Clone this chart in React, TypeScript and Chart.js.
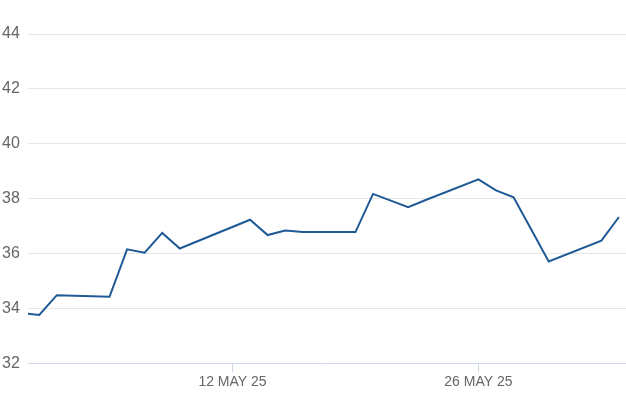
import React, { useEffect, useRef } from "react";
import { Chart, registerables } from "chart.js";

Chart.register(...registerables);

const dates = [
  "2025-04-30", "2025-05-01", "2025-05-02", "2025-05-05", "2025-05-06",
  "2025-05-07", "2025-05-08", "2025-05-09", "2025-05-13", "2025-05-14",
  "2025-05-15", "2025-05-16", "2025-05-19", "2025-05-20", "2025-05-22",
  "2025-05-23", "2025-05-26", "2025-05-27", "2025-05-28", "2025-05-29",
  "2025-05-30", "2025-06-02", "2025-06-03",
];
const values = [
  33.82, 33.76, 34.48, 34.42, 36.15,
  36.03, 36.75, 36.18, 37.23, 36.67,
  36.84, 36.78, 36.78, 38.17, 37.69,
  37.95, 38.7, 38.3, 38.05, 36.88,
  35.71, 36.47, 37.33,
];
const tickDates = ["2025-05-12", "2025-05-26"];
const yTicks = [32, 34, 36, 38, 40, 42, 44];
const MONTHS = ["JAN", "FEB", "MAR", "APR", "MAY", "JUN", "JUL", "AUG", "SEP", "OCT", "NOV", "DEC"];

const DAY = 86400000;
const toDay = (s: string) => {
  const [y, m, d] = s.split("-").map(Number);
  return Date.UTC(y, m - 1, d) / DAY;
};
const fmt = (v: number) => {
  const dt = new Date(Math.round(v) * DAY);
  const yy = String(dt.getUTCFullYear()).slice(2);
  return `${dt.getUTCDate()} ${MONTHS[dt.getUTCMonth()]} ${yy}`;
};

export default function App() {
  const ref = useRef<HTMLCanvasElement | null>(null);
  useEffect(() => {
    if (!ref.current) return;
    const first = toDay(dates[0]);
    const chart = new Chart(ref.current, {
      type: "line",
      data: {
        datasets: [
          {
            data: dates.map((d, i) => ({ x: toDay(d), y: values[i] })),
            borderColor: "#1f5a96",
            borderWidth: 2,
            pointRadius: 0,
            tension: 0,
            fill: false,
          },
        ],
      },
      options: {
        animation: false,
        responsive: false,
        maintainAspectRatio: false,
        layout: { padding: { top: 34, left: 2, right: 0, bottom: 24 } },
        plugins: { legend: { display: false }, tooltip: { enabled: false } },
        scales: {
          x: {
            type: "linear",
            min: first + 0.36,
            max: first + 34.4,
            afterBuildTicks: (s: any) => {
              s.ticks = tickDates.map((d) => ({ value: toDay(d) }));
            },
            grid: {
              drawOnChartArea: false,
              drawTicks: true,
              tickLength: 9,
              color: "#ccd6eb",
            },
            border: { display: true, color: "#ccd6eb", width: 1 },
            ticks: {
              callback: (v: any) => fmt(Number(v)),
              font: { family: "'Liberation Sans', Arial, sans-serif", size: 14 },
              color: "#666666",
              padding: 2,
              maxRotation: 0,
              autoSkip: false,
            },
          },
          y: {
            min: 32,
            max: 44,
            afterBuildTicks: (s: any) => {
              s.ticks = yTicks.map((v) => ({ value: v }));
            },
            afterFit: (s: any) => {
              s.width = 26;
            },
            grid: {
              drawTicks: false,
              color: (c: any) => (c.tick && c.tick.value === 32 ? "rgba(0,0,0,0)" : "#e6e6e6"),
              lineWidth: 1,
            },
            border: { display: false },
            ticks: {
              crossAlign: "far",
              padding: 6,
              font: { family: "'Liberation Sans', Arial, sans-serif", size: 16 },
              color: "#666666",
            },
          },
        },
      } as any,
    });
    return () => chart.destroy();
  }, []);
  return (
    <div style={{ position: "fixed", left: 0, top: 0, width: 626, height: 417, background: "#ffffff" }}>
      <canvas ref={ref} width={626} height={417} style={{ display: "block", width: 626, height: 417 }} />
    </div>
  );
}
